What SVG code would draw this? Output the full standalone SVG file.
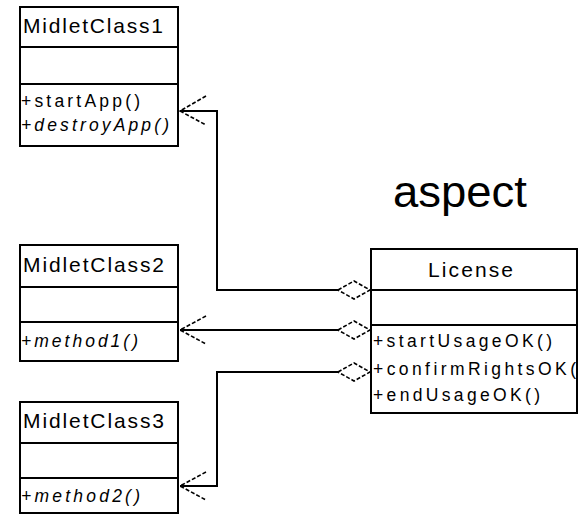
<svg xmlns="http://www.w3.org/2000/svg" width="579" height="514" viewBox="0 0 579 514">
<style>
.box{fill:#fff;stroke:#000;stroke-width:2}
.div{stroke:#000;stroke-width:2}
.t{font-family:"Liberation Sans",Arial,sans-serif;font-size:21px;fill:#000}
.m{font-family:"Liberation Sans",Arial,sans-serif;font-size:17.5px;fill:#000}
.i{font-style:italic}
.conn{fill:none;stroke:#000;stroke-width:2}
.head{fill:none;stroke:#000;stroke-width:1.6;stroke-dasharray:4 2}
.dia{fill:#fff;stroke:#000;stroke-width:1.6;stroke-dasharray:4 2}
</style>
<rect width="579" height="514" fill="#fff"/>
<g id="MidletClass1">
<rect class="box" x="20" y="7" width="158" height="139"/>
<line class="div" x1="20" y1="47" x2="178" y2="47"/>
<line class="div" x1="20" y1="84" x2="178" y2="84"/>
<text class="t" x="23" y="33" textLength="140" lengthAdjust="spacing">MidletClass1</text>
<text class="m" x="21" y="107" textLength="119" lengthAdjust="spacing">+startApp()</text>
<text class="m i" x="21" y="131" textLength="148" lengthAdjust="spacing">+destroyApp()</text>
</g>
<g id="MidletClass2">
<rect class="box" x="20" y="245" width="158" height="116"/>
<line class="div" x1="20" y1="287" x2="178" y2="287"/>
<line class="div" x1="20" y1="322" x2="178" y2="322"/>
<text class="t" x="23" y="272" textLength="141" lengthAdjust="spacing">MidletClass2</text>
<text class="m i" x="21" y="347" textLength="117" lengthAdjust="spacing">+method1()</text>
</g>
<g id="MidletClass3">
<rect class="box" x="20" y="402" width="158" height="111"/>
<line class="div" x1="20" y1="443" x2="178" y2="443"/>
<line class="div" x1="20" y1="478" x2="178" y2="478"/>
<text class="t" x="23" y="428" textLength="141" lengthAdjust="spacing">MidletClass3</text>
<text class="m i" x="21" y="502" textLength="119" lengthAdjust="spacing">+method2()</text>
</g>
<g id="License">
<rect class="box" x="371" y="249" width="206" height="164"/>
<line class="div" x1="371" y1="290" x2="577" y2="290"/>
<line class="div" x1="371" y1="325" x2="577" y2="325"/>
<text class="t" x="428" y="277" textLength="85" lengthAdjust="spacing">License</text>
<text class="m" x="373" y="347" textLength="179" lengthAdjust="spacing">+startUsageOK()</text>
<text class="m" x="373" y="375" textLength="203" lengthAdjust="spacing">+confirmRightsOK(</text>
<text class="m" x="373" y="401" textLength="167" lengthAdjust="spacing">+endUsageOK()</text>
</g>
<g id="aspect-label">
<text x="393" y="207" font-family="'Liberation Sans',Arial,sans-serif" font-size="44" textLength="134" lengthAdjust="spacingAndGlyphs">aspect</text>
</g>
<g id="connectors">
<polyline class="conn" points="338,290 217,290 217,111 180,111"/>
<polyline class="head" points="206,96 180,111 206,125"/>
<polygon class="dia" points="338,290 354,281 370,290 354,299"/>
<polyline class="conn" points="338,330 180,330"/>
<polyline class="head" points="206,316 180,330 206,344"/>
<polygon class="dia" points="338,330 354,321 370,330 354,339"/>
<polyline class="conn" points="338,372 217,372 217,486 180,486"/>
<polyline class="head" points="206,472 180,486 206,500"/>
<polygon class="dia" points="338,372 354,363 370,372 354,381"/>
</g>
</svg>
